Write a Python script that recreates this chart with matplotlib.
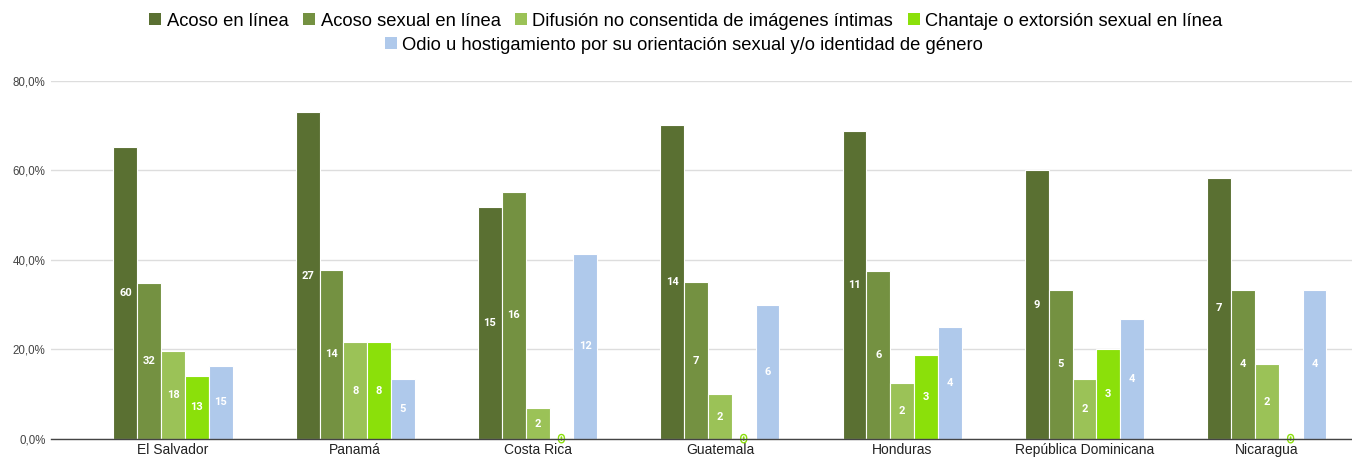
import matplotlib
matplotlib.use("Agg")
import matplotlib.pyplot as plt
import matplotlib.patheffects as pe
from matplotlib.patches import Patch
import numpy as np

plt.rcParams['font.family'] = ['Liberation Sans', 'DejaVu Sans']

# datos
paises = ['El Salvador', 'Panamá', 'Costa Rica', 'Guatemala', 'Honduras',
          'República Dominicana', 'Nicaragua']
series = ['Acoso en línea', 'Acoso sexual en línea',
          'Difusión no consentida de imágenes íntimas',
          'Chantaje o extorsión sexual en línea',
          'Odio u hostigamiento por su orientación sexual y/o identidad de género']
colores = ['#5a7032', '#749141', '#9bc257', '#8be00a', '#afc9eb']

# porcentajes (altura de barras)
acoso = [65.2, 73.0, 51.7, 70.0, 68.8, 60.0, 58.3]
acoso_sexual = [34.8, 37.8, 55.2, 35.0, 37.5, 33.3, 33.3]
difusion = [19.6, 21.6, 6.9, 10.0, 12.5, 13.3, 16.7]
chantaje = [14.1, 21.6, 0.0, 0.0, 18.8, 20.0, 0.0]
odio = [16.3, 13.5, 41.4, 30.0, 25.0, 26.7, 33.3]

# casos (etiquetas)
n_acoso = [60, 27, 15, 14, 11, 9, 7]
n_acoso_sexual = [32, 14, 16, 7, 6, 5, 4]
n_difusion = [18, 8, 2, 2, 2, 2, 2]
n_chantaje = [13, 8, 0, 0, 3, 3, 0]
n_odio = [15, 5, 12, 6, 4, 4, 4]

valores = [acoso, acoso_sexual, difusion, chantaje, odio]
etiquetas = [n_acoso, n_acoso_sexual, n_difusion, n_chantaje, n_odio]

fig = plt.figure(figsize=(13.52, 4.57), dpi=100)
ax = fig.add_axes([51/1352, 18/457, 1 - 51/1352, (439-80.7)/457])

x = np.arange(len(paises))
w = 0.1306
for i in range(5):
    pos = x + (i - 2) * w
    ax.bar(pos, valores[i], w, color=colores[i], edgecolor='white',
           linewidth=0.8, zorder=3)
    for p, v, n in zip(pos, valores[i], etiquetas[i]):
        if n == 0:
            ax.text(p, 0, '0', ha='center', va='center', fontsize=7,
                    color='white', fontweight='bold', zorder=5,
                    path_effects=[pe.withStroke(linewidth=2, foreground=colores[3])])
        else:
            ax.text(p, v / 2, str(n), ha='center', va='center', fontsize=8,
                    color='white', fontweight='bold', zorder=4,
                    family=['Roboto', 'DejaVu Sans'])

ax.set_ylim(0, 80)
ax.set_xlim((51 - 173) / 182.3, (1352 - 173) / 182.3)
ax.set_yticks([0, 20, 40, 60, 80])
ax.set_yticklabels(['0,0%', '20,0%', '40,0%', '60,0%', '80,0%'])
ax.set_xticks(x)
ax.set_xticklabels(paises)
ax.tick_params(axis='y', length=0, labelsize=8.3, colors='#444444', pad=4)
ax.tick_params(axis='x', length=0, labelsize=10, colors='#222222', pad=3)
ax.grid(axis='y', color='#dddddd', linewidth=1, zorder=0)
for s in ['top', 'right', 'left']:
    ax.spines[s].set_visible(False)
ax.spines['bottom'].set_color('#444444')
ax.spines['bottom'].set_linewidth(1)
ax.spines['bottom'].set_zorder(6)

h = [Patch(facecolor=c) for c in colores]
kw = dict(frameon=False, fontsize=13.2, handlelength=0.65, handleheight=0.65,
          handletextpad=0.3, columnspacing=0.8, borderaxespad=0)
fig.legend(h[:4], series[:4], ncol=4, loc='center',
           bbox_to_anchor=(686/1352, 1 - 21/457), **kw)
fig.legend(h[4:], series[4:], ncol=1, loc='center',
           bbox_to_anchor=(684/1352, 1 - 45/457), **kw)

fig.savefig('out.png', dpi=100)
